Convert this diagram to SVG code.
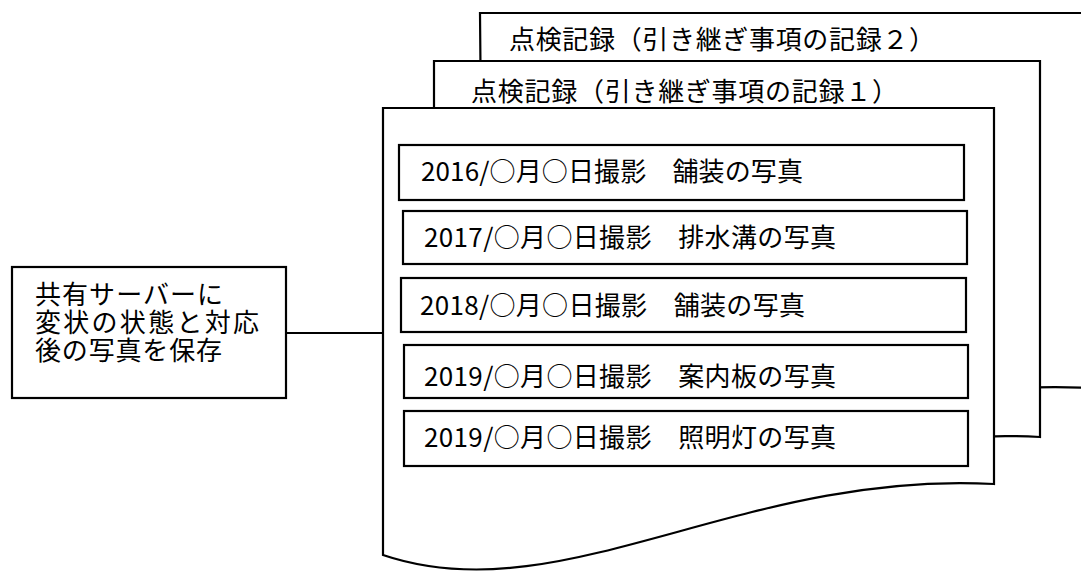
<svg xmlns="http://www.w3.org/2000/svg" width="1081" height="572" viewBox="0 0 1081 572">
<style>
.shape{fill:#fff;stroke:#000;stroke-width:2.2;stroke-linejoin:miter}
.t{font-family:"Noto Sans CJK JP","Noto Sans",sans-serif;font-size:26px;fill:#000}
.conn{fill:none;stroke:#000;stroke-width:2.2}
</style>
<g id="doc2">
<path class="shape" d="M480,13 H1090 V388 C840,374 660,514 484,460 Z"/>
<text class="t" x="509" y="49" textLength="426" lengthAdjust="spacing">点検記録（引き継ぎ事項の記録２）</text>
</g>
<g id="doc1">
<path class="shape" d="M434,61 H1040 V437 C791,423 611,563 434,508 Z"/>
<text class="t" x="471" y="101" textLength="427" lengthAdjust="spacing">点検記録（引き継ぎ事項の記録１）</text>
</g>
<g id="doc-front">
<path class="shape" d="M383,108 H994 V484 C740,470 560,615 383,555 Z"/>
</g>
<g id="item-2016">
<rect class="shape" x="399" y="145" width="565" height="55"/>
<text class="t" x="421" y="181" textLength="382" lengthAdjust="spacing">2016/○月○日撮影　舗装の写真</text>
</g>
<g id="item-2017">
<rect class="shape" x="403" y="211" width="564" height="53"/>
<text class="t" x="424" y="247" textLength="412" lengthAdjust="spacing">2017/○月○日撮影　排水溝の写真</text>
</g>
<g id="item-2018">
<rect class="shape" x="401" y="278" width="565" height="54"/>
<text class="t" x="420" y="315" textLength="385" lengthAdjust="spacing">2018/○月○日撮影　舗装の写真</text>
</g>
<g id="item-2019a">
<rect class="shape" x="404" y="345" width="564" height="53"/>
<text class="t" x="424" y="386" textLength="412" lengthAdjust="spacing">2019/○月○日撮影　案内板の写真</text>
</g>
<g id="item-2019b">
<rect class="shape" x="404" y="411" width="564" height="55"/>
<text class="t" x="424" y="447" textLength="412" lengthAdjust="spacing">2019/○月○日撮影　照明灯の写真</text>
</g>
<g id="server-note">
<rect class="shape" x="12" y="267" width="274" height="131"/>
<text class="t" x="35" y="304" textLength="188" lengthAdjust="spacing">共有サーバーに</text>
<text class="t" x="35" y="332" textLength="224" lengthAdjust="spacing">変状の状態と対応</text>
<text class="t" x="35" y="360" textLength="187" lengthAdjust="spacing">後の写真を保存</text>
</g>
<g id="connectors">
<line class="conn" x1="286" y1="333" x2="383" y2="333"/>
</g>
</svg>
